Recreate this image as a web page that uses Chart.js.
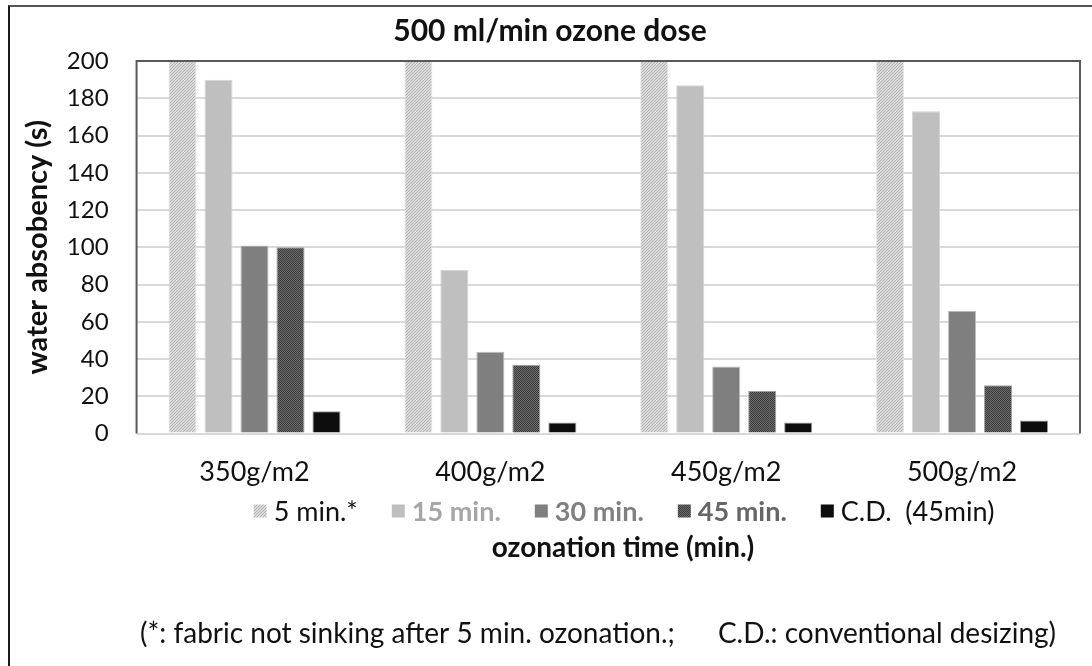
<!DOCTYPE html>
<html>
<head>
<meta charset="utf-8">
<script src="https://cdn.jsdelivr.net/npm/chart.js@4"></script>
<style>
  body { margin: 0; background: #fff; }
  .frame { position: absolute; left: 8px; top: 5px; width: 1084px; height: 661px;
           border-left: 2px solid #1a1a1a; border-top: 2px solid #555; }
  .wrap { position: absolute; left: 0; top: 0; width: 1092px; height: 666px; }
</style>
</head>
<body>
<div class="frame"></div>
<div class="wrap"><canvas id="ozoneChart" width="1092" height="666"></canvas></div>
<script>
const categories = ['350g/m2', '400g/m2', '450g/m2', '500g/m2'];
const seriesNames = ['5 min.*', '15 min.', '30 min.', '45 min.', 'C.D.  (45min)'];
const min5 = [200, 200, 200, 200];   // not sinking, shown capped at axis max
const min15 = [190, 88, 187, 173];
const min30 = [101, 44, 36, 66];
const min45 = [100, 37, 23, 26];
const convDesizing = [12, 6, 6, 7];
const yTicks = [0, 20, 40, 60, 80, 100, 120, 140, 160, 180, 200];

const FONT = 'Lato, "Open Sans", sans-serif';

// fill patterns like the original excel chart
function makePattern(size, draw) {
    const c = document.createElement('canvas');
    c.width = size; c.height = size;
    const g = c.getContext('2d');
    draw(g);
    return g.createPattern(c, 'repeat');
}
const hatch = makePattern(3, g => {
    g.fillStyle = '#dadada'; g.fillRect(0, 0, 3, 3);
    g.fillStyle = '#b4b4b4';
    for (let i = 0; i < 3; i++) g.fillRect(i, 2 - i, 1, 1);
});
const checker = makePattern(2, g => {
    g.fillStyle = '#6e6e6e'; g.fillRect(0, 0, 2, 2);
    g.fillStyle = '#3a3a3a'; g.fillRect(0, 0, 1, 1); g.fillRect(1, 1, 1, 1);
});

const legendStyle = [
    { color: '#111', weight: 'normal' },
    { color: '#a6a6a6', weight: 'bold' },
    { color: '#808080', weight: 'bold' },
    { color: '#666', weight: 'bold' },
    { color: '#111', weight: 'normal' }
];

// legend, x title and note sit between/below the axis, so they are drawn here
const bottomTexts = {
    id: 'bottomTexts',
    afterDraw(chart) {
        const ctx = chart.ctx;
        const ds = chart.data.datasets;
        const box = 13, gapBox = 7, gapItem = 34;
        ctx.save();
        ctx.textBaseline = 'middle';
        const widths = ds.map((d, i) => {
            ctx.font = legendStyle[i].weight + ' 27px ' + FONT;
            return box + gapBox + ctx.measureText(d.label).width;
        });
        const total = widths.reduce((a, b) => a + b, 0) + gapItem * (ds.length - 1);
        let x = 624 - total / 2;
        const y = 511;
        ds.forEach((d, i) => {
            ctx.fillStyle = d.backgroundColor;
            ctx.fillRect(x, y - box / 2, box, box);
            ctx.font = legendStyle[i].weight + ' 27px ' + FONT;
            ctx.fillStyle = legendStyle[i].color;
            ctx.textAlign = 'left';
            ctx.fillText(d.label, x + box + gapBox, y + 1);
            x += widths[i] + gapItem;
        });
        ctx.textAlign = 'center';
        ctx.fillStyle = '#111';
        ctx.font = 'bold 28px ' + FONT;
        ctx.fillText('ozonation time (min.)', 623, 548);
        ctx.font = '28px ' + FONT;
        ctx.fillText('(*: fabric not sinking after 5 min. ozonation.;      C.D.: conventional desizing)', 598, 634);
        ctx.restore();
    }
};

// dark outline on top, left and right of the plot area
const plotOutline = {
    id: 'plotOutline',
    afterDatasetsDraw(chart) {
        const a = chart.chartArea, ctx = chart.ctx;
        ctx.save();
        ctx.strokeStyle = '#595959';
        ctx.lineWidth = 2;
        ctx.beginPath();
        ctx.moveTo(a.left, a.bottom);
        ctx.lineTo(a.left, a.top);
        ctx.lineTo(a.right, a.top);
        ctx.lineTo(a.right, a.bottom);
        ctx.stroke();
        ctx.restore();
    }
};

const ctx = document.getElementById('ozoneChart').getContext('2d');
new Chart(ctx, {
    type: 'bar',
    data: {
        labels: categories,
        datasets: [
            { label: seriesNames[0], data: min5, backgroundColor: hatch, borderColor: '#e6e6e6' },
            { label: seriesNames[1], data: min15, backgroundColor: '#bfbfbf', borderColor: '#d4d4d4' },
            { label: seriesNames[2], data: min30, backgroundColor: '#7f7f7f', borderColor: '#bdbdbd' },
            { label: seriesNames[3], data: min45, backgroundColor: checker, borderColor: '#a0a0a0' },
            { label: seriesNames[4], data: convDesizing, backgroundColor: '#0d0d0d', borderColor: '#9a9a9a' }
        ].map(d => Object.assign(d, { borderWidth: 1, categoryPercentage: 0.763, barPercentage: 0.78 }))
    },
    options: {
        responsive: false,
        animation: false,
        layout: { padding: { left: 20, right: 12, top: 0, bottom: 156 } },
        scales: {
            x: {
                grid: { display: false, drawTicks: false },
                border: { display: false },
                ticks: { padding: 22, color: '#111', font: { family: FONT, size: 27 } }
            },
            y: {
                min: 0, max: 200,
                afterBuildTicks: axis => { axis.ticks = yTicks.map(v => ({ value: v })); },
                grid: { color: '#d9d9d9', lineWidth: 2, drawTicks: false },
                border: { display: false },
                ticks: { padding: 28, color: '#111', font: { family: FONT, size: 24 } },
                title: { display: true, text: 'water absobency (s)', color: '#111',
                         font: { family: FONT, size: 29, weight: 'bold' }, padding: { top: 0, bottom: -16 } }
            }
        },
        plugins: {
            legend: { display: false },
            tooltip: { enabled: false },
            title: {
                display: true, text: '500 ml/min ozone dose', color: '#111',
                font: { family: FONT, size: 30, weight: 'bold' },
                padding: { top: 13, bottom: 12 }
            }
        }
    },
    plugins: [bottomTexts, plotOutline]
});
</script>
</body>
</html>
